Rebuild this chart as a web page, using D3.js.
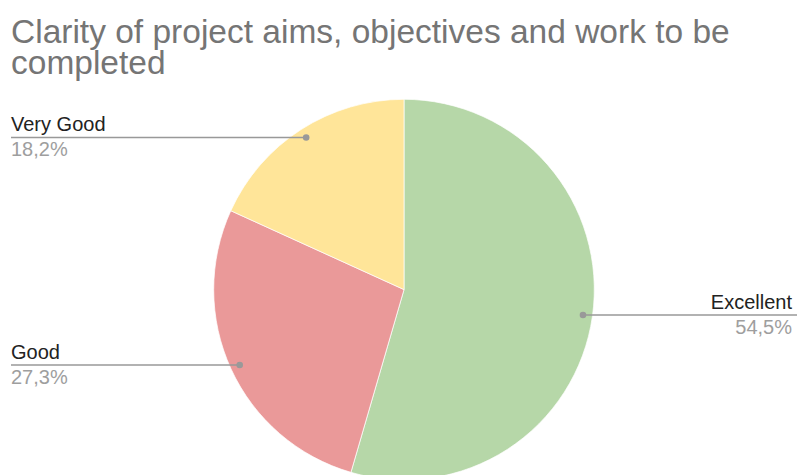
<!DOCTYPE html>
<html>
<head>
<meta charset="utf-8">
<script src="https://cdn.jsdelivr.net/npm/d3@7"></script>
<style>
  html, body { margin: 0; padding: 0; background: #fff; }
  svg { display: block; }
</style>
</head>
<body>
<svg id="chart" width="799" height="475"></svg>
<script>
const categories = ["Excellent", "Good", "Very Good"];
const values = [54.5, 27.3, 18.2];
const colors = ["#b6d7a8", "#ea9999", "#ffe599"];
const titleLines = ["Clarity of project aims, objectives and work to be", "completed"];

const W = 799, H = 475;
const cx = 404, cy = 289.6, R = 190.3;
const svg = d3.select("#chart");

// Title
const title = svg.append("text")
  .attr("font-family", "'Liberation Sans', Arial, sans-serif")
  .attr("font-size", 33.5)
  .attr("fill", "#757575");
titleLines.forEach((t, i) => {
  title.append("tspan").attr("x", 11).attr("y", 42.5 + i * 31).text(t);
});

const data = categories.map((c, i) => ({ name: c, value: values[i], color: colors[i] }));
const pie = d3.pie().sort(null).value(d => d.value).startAngle(0).endAngle(2 * Math.PI);
const arcs = pie(data);
const arc = d3.arc().innerRadius(0).outerRadius(R);
const dotArc = d3.arc().innerRadius(R * 0.95).outerRadius(R * 0.95);

const g = svg.append("g").attr("transform", `translate(${cx},${cy})`);
g.selectAll("path.slice").data(arcs).enter().append("path")
  .attr("class", "slice")
  .attr("d", arc)
  .attr("fill", d => d.data.color)
  .attr("stroke", "#ffffff")
  .attr("stroke-width", 0.7);

const fmt = v => d3.format(".1f")(v).replace(".", ",") + "%";

arcs.forEach(a => {
  const [px, py] = dotArc.centroid(a);
  const dx = cx + px, dy = cy + py;
  const right = px > 0;
  const endX = right ? 797 : 11;
  svg.append("line")
    .attr("x1", dx).attr("y1", dy).attr("x2", endX).attr("y2", dy)
    .attr("stroke", "#999999").attr("stroke-width", 1.6);
  svg.append("circle").attr("cx", dx).attr("cy", dy).attr("r", 3.3).attr("fill", "#999999");
  const tx = right ? 792 : 11;
  const anchor = right ? "end" : "start";
  svg.append("text")
    .attr("x", tx).attr("y", dy - 6.2)
    .attr("text-anchor", anchor)
    .attr("font-family", "'Liberation Sans', Arial, sans-serif")
    .attr("font-size", 20)
    .attr("fill", "#222222")
    .text(a.data.name);
  svg.append("text")
    .attr("x", tx).attr("y", dy + 18.8)
    .attr("text-anchor", anchor)
    .attr("font-family", "'Liberation Sans', Arial, sans-serif")
    .attr("font-size", 20)
    .attr("fill", "#9e9e9e")
    .text(fmt(a.data.value));
});
</script>
</body>
</html>
